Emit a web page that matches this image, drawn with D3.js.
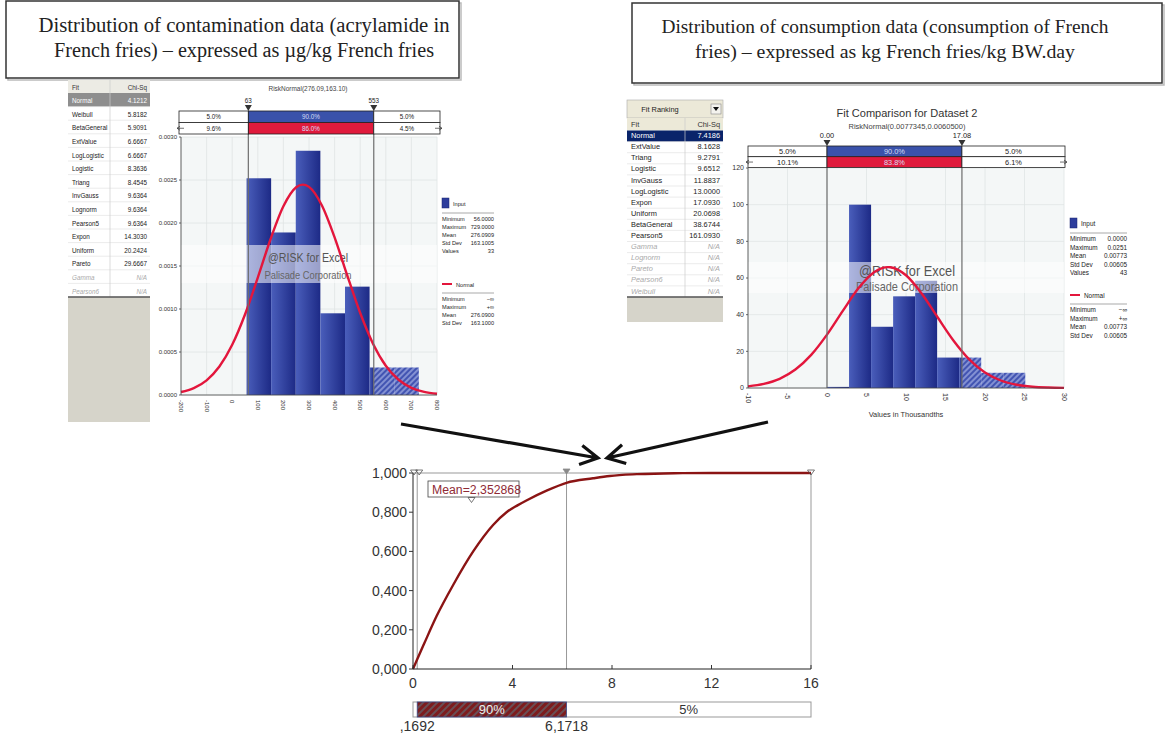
<!DOCTYPE html>
<html>
<head>
<meta charset="utf-8">
<script src="https://cdn.jsdelivr.net/npm/d3@7"></script>
<style>body{margin:0;background:#fff}</style>
</head>
<body>
<script>
//size of the whole picture
const width = 1167;
const height = 736;

// ---------- data: contamination (acrylamide in French fries) ----------
const contFits = ["Normal","Weibull","BetaGeneral","ExtValue","LogLogistic","Logistic","Triang",
  "InvGauss","Lognorm","Pearson5","Expon","Uniform","Pareto","Gamma","Pearson6"];
const contChiSq = ["4.1212","5.8182","5.9091","6.6667","6.6667","8.3636","8.4545",
  "9.6364","9.6364","9.6364","14.3030","20.2424","29.6667","N/A","N/A"];
const contBinEdges = [56, 152.1, 248.3, 344.4, 440.6, 536.7, 632.9, 729];
const contDensity = [0.00252, 0.00189, 0.00284, 0.00095, 0.00126, 0.00032, 0.00032];
// fitted RiskNormal(276.09,163.10)
const contNormX = [-200,-150,-100,-50,0,50,100,150,200,250,276,300,350,400,450,500,550,600,650,700,750,800];
const contNormY = [0.0000346,0.0000806,0.000171,0.000331,0.000584,0.000936,0.001365,0.001814,0.002194,0.002415,0.002446,
  0.00242,0.002207,0.001833,0.001385,0.000953,0.000597,0.00034,0.000177,0.0000835,0.0000359,0.0000141];
const contXTicks = [-200,-100,0,100,200,300,400,500,600,700,800];
const contYTicks = [0,0.0005,0.001,0.0015,0.002,0.0025,0.003];
const contMarks = [63, 553];
const contMarkLabels = ["63", "553"];
const contInputPct = ["5.0%","90.0%","5.0%"];
const contFitPct = ["9.6%","86.0%","4.5%"];
const contInputStats = [["Minimum","56.0000"],["Maximum","729.0000"],["Mean","276.0909"],["Std Dev","163.1005"],["Values","33"]];
const contFitStats = [["Minimum","\u2212\u221e"],["Maximum","+\u221e"],["Mean","276.0900"],["Std Dev","163.1000"]];

// ---------- data: consumption of French fries (values in thousandths) ----------
const consFits = ["Normal","ExtValue","Triang","Logistic","InvGauss","LogLogistic","Expon","Uniform",
  "BetaGeneral","Pearson5","Gamma","Lognorm","Pareto","Pearson6","Weibull"];
const consChiSq = ["7.4186","8.1628","9.2791","9.6512","11.8837","13.0000","17.0930","20.0698",
  "38.6744","161.0930","N/A","N/A","N/A","N/A","N/A"];
const consBinEdges = [0, 2.79, 5.58, 8.37, 11.16, 13.94, 16.73, 19.52, 22.31, 25.1];
const consDensity = [0.6, 100, 33.4, 50, 58.5, 16.6, 16.6, 8.3, 8.3];
// fitted RiskNormal(0.0077345,0.0060500)
const consNormX = [-10,-8,-6,-4,-2,0,2,4,6,7.73,8,10,12,14,16,18,20,22,24,26,28,30];
const consNormY = [0.89,2.24,5.01,10.05,18.07,29.13,42.08,54.5,63.28,65.94,65.88,61.48,51.43,38.57,25.94,15.63,8.45,4.09,1.78,0.69,0.24,0.08];
const consXTicks = [-10,-5,0,5,10,15,20,25,30];
const consYTicks = [0,20,40,60,80,100,120];
const consMarks = [0, 17.08];
const consMarkLabels = ["0.00", "17.08"];
const consInputPct = ["5.0%","90.0%","5.0%"];
const consFitPct = ["10.1%","83.8%","6.1%"];
const consInputStats = [["Minimum","0.0000"],["Maximum","0.0251"],["Mean","0.00773"],["Std Dev","0.00605"],["Values","43"]];
const consFitStats = [["Minimum","\u2212\u221e"],["Maximum","+\u221e"],["Mean","0.00773"],["Std Dev","0.00605"]];

// ---------- data: resulting exposure cumulative curve ----------
const cdfX = [0, 0.17, 0.45, 0.95, 1.62, 2.42, 3.22, 3.76, 4.2, 4.56, 5.37, 6.17, 7.24, 7.91, 9.0, 10.5, 12, 16];
const cdfY = [0, 0.05, 0.13, 0.27, 0.43, 0.60, 0.735, 0.80, 0.835, 0.86, 0.91, 0.95, 0.973, 0.985, 0.994, 0.999, 1, 1];
const cdfXTicks = [0, 4, 8, 12, 16];
const cdfYTicks = [0, 0.2, 0.4, 0.6, 0.8, 1];
const cdfMean = 2.352868;
const cdfMarks = [0.1692, 6.1718];
const cdfMarkLabels = [",1692", "6,1718"];
const cdfPct = ["90%", "5%"];

// sets up canvas
let c = d3.select("body").append("svg")
  .attr("width", width)
  .attr("height", height)
  .style("font-family", "'Liberation Sans', Arial, sans-serif");

let defs = c.append("defs");
let grad = defs.append("linearGradient").attr("id", "barGrad")
  .attr("x1", 0).attr("x2", 1).attr("y1", 0).attr("y2", 0);
grad.append("stop").attr("offset", "0%").attr("stop-color", "#4a5ebb");
grad.append("stop").attr("offset", "100%").attr("stop-color", "#1d2a86");

let hatch = defs.append("pattern").attr("id", "barHatch")
  .attr("patternUnits", "userSpaceOnUse").attr("width", 4).attr("height", 4)
  .attr("patternTransform", "rotate(45)");
hatch.append("rect").attr("width", 4).attr("height", 4).attr("fill", "#4254b2");
hatch.append("line").attr("x1", 1).attr("x2", 1).attr("y1", 0).attr("y2", 4)
  .attr("stroke", "#b9c3ee").attr("stroke-width", 1.1);

let redHatch = defs.append("pattern").attr("id", "redHatch")
  .attr("patternUnits", "userSpaceOnUse").attr("width", 5).attr("height", 5)
  .attr("patternTransform", "rotate(45)");
redHatch.append("rect").attr("width", 5).attr("height", 5).attr("fill", "#7d1c1e");
redHatch.append("line").attr("x1", 1).attr("x2", 1).attr("y1", 0).attr("y2", 5)
  .attr("stroke", "#4a9aa8").attr("stroke-width", 0.8);

// ---------- title boxes ----------
function titleBox(x, y, w, h, cx, lines, widths, base, fs) {
  c.append("rect").attr("x", x + 2).attr("y", y + 2).attr("width", w).attr("height", h)
    .attr("fill", "none").attr("stroke", "#bbb").attr("stroke-width", 1.5);
  c.append("rect").attr("x", x).attr("y", y).attr("width", w).attr("height", h)
    .attr("fill", "#fff").attr("stroke", "#333").attr("stroke-width", 1.5);
  lines.forEach((t, i) => {
    c.append("text").attr("x", cx).attr("y", base + i * 25)
      .attr("text-anchor", "middle")
      .attr("textLength", widths[i]).attr("lengthAdjust", "spacingAndGlyphs")
      .style("font-family", "'Liberation Serif', 'Times New Roman', serif")
      .style("font-size", fs + "px").attr("fill", "#222").text(t);
  });
}
titleBox(6, 1, 453, 77, 244, ["Distribution of contamination data (acrylamide in",
  "French fries) \u2013 expressed as \u00b5g/kg French fries"], [411, 380], 32, 20.5);
titleBox(632, 3, 530, 80, 885, ["Distribution of consumption data (consumption of French",
  "fries) \u2013 expressed as kg French fries/kg BW.day"], [447, 380], 33, 19.5);

// ---------- fit ranking tables ----------
function fitTable(o) {
  let g = c.append("g").style("font-size", o.fs + "px");
  g.append("rect").attr("x", o.x).attr("y", o.y).attr("width", o.w).attr("height", o.h).attr("fill", "#d6d4ca");
  let top = o.y;
  if (o.ranking) {
    g.append("rect").attr("x", o.x).attr("y", top).attr("width", o.w).attr("height", 18).attr("fill", "#ece9d8")
      .attr("stroke", "#aaa").attr("stroke-width", 0.6);
    g.append("text").attr("x", o.x + 33).attr("y", top + 12).attr("text-anchor", "middle").attr("fill", "#222").text("Fit Ranking");
    g.append("rect").attr("x", o.x + o.w - 12).attr("y", top + 4).attr("width", 10).attr("height", 10)
      .attr("fill", "#f4f3ee").attr("stroke", "#888").attr("stroke-width", 0.6);
    g.append("path").attr("d", `M${o.x + o.w - 10},${top + 7}h6l-3,4z`).attr("fill", "#111");
    top += 18;
  }
  let tableH = o.headH + o.rowH * o.fits.length;
  g.append("rect").attr("x", o.x).attr("y", top).attr("width", o.w).attr("height", tableH).attr("fill", "#fff");
  g.append("rect").attr("x", o.x).attr("y", top).attr("width", o.w).attr("height", o.headH).attr("fill", o.headFill);
  g.append("text").attr("x", o.x + 4).attr("y", top + o.headH - 3.5).attr("fill", "#333").text("Fit");
  g.append("text").attr("x", o.x + o.w - 3).attr("y", top + o.headH - 3.5).attr("text-anchor", "end").attr("fill", "#333").text("Chi-Sq");
  o.fits.forEach((f, i) => {
    let ry = top + o.headH + i * o.rowH;
    let na = o.chi[i] === "N/A";
    if (i === 0) g.append("rect").attr("x", o.x).attr("y", ry).attr("width", o.w).attr("height", o.rowH).attr("fill", o.selFill);
    g.append("line").attr("x1", o.x).attr("x2", o.x + o.w).attr("y1", ry + o.rowH).attr("y2", ry + o.rowH)
      .attr("stroke", "#ddd").attr("stroke-width", 0.6);
    let col = i === 0 ? "#fff" : (na ? "#aaa" : "#222");
    g.append("text").attr("x", o.x + 4).attr("y", ry + o.rowH - 3.5).attr("fill", col)
      .style("font-style", na ? "italic" : "normal").text(f);
    g.append("text").attr("x", o.x + o.w - 3).attr("y", ry + o.rowH - 3.5).attr("text-anchor", "end").attr("fill", col)
      .style("font-style", na ? "italic" : "normal").text(o.chi[i]);
  });
  g.append("line").attr("x1", o.x + o.div).attr("x2", o.x + o.div).attr("y1", top).attr("y2", top + tableH)
    .attr("stroke", "#ccc").attr("stroke-width", 0.7);
  g.append("line").attr("x1", o.x).attr("x2", o.x + o.w).attr("y1", top + tableH).attr("y2", top + tableH)
    .attr("stroke", "#555").attr("stroke-width", 1.3);
}
fitTable({x: 68, y: 80, w: 82, h: 342, headH: 13, rowH: 13.6, fits: contFits, chi: contChiSq,
  div: 42, fs: 6.3, headFill: "#ecebe4", selFill: "#8e8e8e", ranking: false});
fitTable({x: 627, y: 100, w: 96, h: 222, headH: 12.5, rowH: 11.1, fits: consFits, chi: consChiSq,
  div: 58, fs: 7.4, headFill: "#ece9d8", selFill: "#0a246a", ranking: true});

// ---------- histogram + fitted normal panels ----------
function fitPanel(o) {
  let g = c.append("g");
  let x = d3.scaleLinear().domain(d3.extent(o.xTicks)).range(o.xRange);
  let y = d3.scaleLinear().domain(d3.extent(o.yTicks)).range(o.yRange);
  let L = o.xRange[0], R = o.xRange[1], T = o.yRange[1], B = o.yRange[0];

  g.append("rect").attr("x", L).attr("y", T).attr("width", R - L).attr("height", B - T).attr("fill", "#f4f7f7");
  g.selectAll(".vg").data(o.xTicks).join("line")
    .attr("x1", d => x(d)).attr("x2", d => x(d)).attr("y1", T).attr("y2", B)
    .attr("stroke", "#dfe4e4").attr("stroke-width", 0.8);
  g.selectAll(".hg").data(o.yTicks).join("line")
    .attr("x1", L).attr("x2", R).attr("y1", d => y(d)).attr("y2", d => y(d))
    .attr("stroke", "#dfe4e4").attr("stroke-width", 0.8);

  // bars, hatched beyond the right delimiter
  let cut = o.marks[1];
  o.dens.forEach((d, i) => {
    let x0 = o.edges[i], x1 = o.edges[i + 1];
    if (x0 < cut) g.append("rect").attr("x", x(x0)).attr("width", x(Math.min(x1, cut)) - x(x0))
      .attr("y", y(d)).attr("height", y(0) - y(d)).attr("fill", "url(#barGrad)");
    if (x1 > cut) g.append("rect").attr("x", x(Math.max(x0, cut))).attr("width", x(x1) - x(Math.max(x0, cut)))
      .attr("y", y(d)).attr("height", y(0) - y(d)).attr("fill", "url(#barHatch)");
  });

  // watermark band
  g.append("rect").attr("x", L).attr("y", o.band[0]).attr("width", R - L).attr("height", o.band[1] - o.band[0])
    .attr("fill", "#fff").attr("opacity", 0.55);
  g.append("text").attr("x", o.wmX).attr("y", o.wmY[0]).attr("text-anchor", "middle")
    .attr("textLength", o.wmW[0]).attr("lengthAdjust", "spacingAndGlyphs")
    .style("font-size", o.wmS[0] + "px").attr("fill", "#555").text("@RISK for Excel");
  g.append("text").attr("x", o.wmX).attr("y", o.wmY[1]).attr("text-anchor", "middle")
    .attr("textLength", o.wmW[1]).attr("lengthAdjust", "spacingAndGlyphs")
    .style("font-size", o.wmS[1] + "px").attr("fill", "#666").text("Palisade Corporation");

  // fitted normal curve
  let line = d3.line().x(d => x(d[0])).y(d => y(d[1])).curve(d3.curveMonotoneX);
  g.append("path").datum(o.normX.map((v, i) => [v, o.normY[i]]))
    .attr("d", line).attr("fill", "none").attr("stroke", "#e3163c").attr("stroke-width", 2.4);

  // delimiter lines
  o.marks.forEach(m => {
    g.append("line").attr("x1", x(m)).attr("x2", x(m)).attr("y1", o.rowY).attr("y2", B)
      .attr("stroke", "#6d6d6d").attr("stroke-width", 1.2);
  });

  // axes
  g.append("line").attr("x1", L).attr("x2", L).attr("y1", T).attr("y2", B).attr("stroke", "#444").attr("stroke-width", 0.8);
  g.append("line").attr("x1", L).attr("x2", R).attr("y1", B).attr("y2", B).attr("stroke", "#444").attr("stroke-width", 0.8);
  g.selectAll(".yt").data(o.yTicks).join("text")
    .attr("x", L - 4).attr("y", d => y(d) + o.tfs / 3).attr("text-anchor", "end")
    .style("font-size", o.tfs + "px").attr("fill", "#333").text(o.yFmt);
  g.selectAll(".ytk").data(o.yTicks).join("line")
    .attr("x1", L - 2).attr("x2", L).attr("y1", d => y(d)).attr("y2", d => y(d)).attr("stroke", "#444").attr("stroke-width", 0.8);
  g.selectAll(".xt").data(o.xTicks).join("text")
    .attr("transform", d => `translate(${x(d) - o.tfs / 3},${B + 5}) rotate(90)`)
    .style("font-size", o.tfs + "px").attr("fill", "#333").text(d => d);
  if (o.xLabel) g.append("text").attr("x", (L + R) / 2).attr("y", o.xLabelY).attr("text-anchor", "middle")
    .style("font-size", (o.tfs + 0.4) + "px").attr("fill", "#333").text(o.xLabel);

  // percentage rows above the plot
  let rx0 = o.rowX[0], rx1 = o.rowX[1], rh = o.rowH, ry = o.rowY;
  [o.inputPct, o.fitPct].forEach((p, r) => {
    let yy = ry + r * rh;
    let xs = [rx0, x(o.marks[0]), x(o.marks[1]), rx1];
    for (let k = 0; k < 3; k++) {
      let fill = k === 1 ? (r === 0 ? "#3a52aa" : "#e01a3c") : "#fff";
      g.append("rect").attr("x", xs[k]).attr("y", yy).attr("width", xs[k + 1] - xs[k]).attr("height", rh)
        .attr("fill", fill).attr("stroke", "#222").attr("stroke-width", 0.8);
      g.append("text").attr("x", (xs[k] + xs[k + 1]) / 2).attr("y", yy + rh / 2 + o.pfs / 2.8)
        .attr("text-anchor", "middle").style("font-size", o.pfs + "px")
        .attr("fill", k === 1 ? "#d6dcf4" : "#222").text(p[k]);
    }
  });
  let ay = ry + rh * 1.5;
  g.append("path").attr("d", `M${rx0 - 2},${ay}h7M${rx0 - 2},${ay}l3,-2M${rx0 - 2},${ay}l3,2`).attr("stroke", "#333").attr("stroke-width", 0.7).attr("fill", "none");
  g.append("path").attr("d", `M${rx1 + 2},${ay}h-7M${rx1 + 2},${ay}l-3,-2M${rx1 + 2},${ay}l-3,2`).attr("stroke", "#333").attr("stroke-width", 0.7).attr("fill", "none");

  // delimiter markers and labels
  o.marks.forEach((m, i) => {
    g.append("path").attr("d", `M${x(m) - 3.5},${ry - 6}h7l-3.5,6z`).attr("fill", "#333");
    g.append("text").attr("x", x(m)).attr("y", ry - 8).attr("text-anchor", "middle")
      .style("font-size", o.pfs + "px").attr("fill", "#222").text(o.markLabels[i]);
  });

  // titles
  o.titles.forEach(t => {
    g.append("text").attr("x", o.titleX).attr("y", t.y).attr("text-anchor", "middle")
      .attr("textLength", t.w).attr("lengthAdjust", "spacingAndGlyphs")
      .style("font-size", t.s + "px").attr("fill", t.col).text(t.text);
  });

  // legend
  let lg = g.append("g").style("font-size", o.lfs + "px").attr("fill", "#222");
  let lx = o.legX, lr = o.legR, ly = o.legY, st = o.legStep;
  lg.append("rect").attr("x", lx).attr("y", ly).attr("width", 7).attr("height", 10).attr("fill", "#2d3d9c").attr("stroke", "#1a2470").attr("stroke-width", 0.5);
  lg.append("text").attr("x", lx + 11).attr("y", ly + 8).text("Input");
  lg.append("line").attr("x1", lx).attr("x2", lr).attr("y1", ly + 15).attr("y2", ly + 15).attr("stroke", "#aaa").attr("stroke-width", 1.2);
  o.inputStats.forEach((s, i) => {
    lg.append("text").attr("x", lx).attr("y", ly + 23 + i * st).text(s[0]);
    lg.append("text").attr("x", lr).attr("y", ly + 23 + i * st).attr("text-anchor", "end").text(s[1]);
  });
  let ny = o.normLegY;
  lg.append("line").attr("x1", lx).attr("x2", lx + 10).attr("y1", ny).attr("y2", ny).attr("stroke", "#e3163c").attr("stroke-width", 2);
  lg.append("text").attr("x", lx + 14).attr("y", ny + 2.5).text("Normal");
  lg.append("line").attr("x1", lx).attr("x2", lr).attr("y1", ny + 9).attr("y2", ny + 9).attr("stroke", "#aaa").attr("stroke-width", 1.2);
  o.fitStats.forEach((s, i) => {
    lg.append("text").attr("x", lx).attr("y", ny + 17 + i * st).text(s[0]);
    lg.append("text").attr("x", lr).attr("y", ny + 17 + i * st).attr("text-anchor", "end").text(s[1]);
  });
}

fitPanel({
  xTicks: contXTicks, yTicks: contYTicks, xRange: [181, 437], yRange: [395, 137],
  edges: contBinEdges, dens: contDensity, normX: contNormX, normY: contNormY,
  marks: contMarks, markLabels: contMarkLabels, inputPct: contInputPct, fitPct: contFitPct,
  yFmt: d3.format(".4f"), tfs: 6, pfs: 6.3,
  rowX: [179, 440], rowY: 111, rowH: 11.5,
  band: [245, 283], wmX: 308, wmY: [262, 279], wmW: [80, 87], wmS: [13, 11],
  titleX: 308, titles: [{text: "RiskNormal(276.09,163.10)", y: 91, w: 79, s: 6.5, col: "#444"}],
  legX: 442, legR: 494, legY: 198, legStep: 8, normLegY: 284, lfs: 5.6,
  inputStats: contInputStats, fitStats: contFitStats
});

fitPanel({
  xTicks: consXTicks, yTicks: consYTicks, xRange: [748, 1064], yRange: [388, 168],
  edges: consBinEdges, dens: consDensity, normX: consNormX, normY: consNormY,
  marks: consMarks, markLabels: consMarkLabels, inputPct: consInputPct, fitPct: consFitPct,
  yFmt: d3.format("d"), tfs: 7, pfs: 7.4,
  rowX: [748, 1065], rowY: 146, rowH: 10.7,
  band: [262, 293], wmX: 907, wmY: [276, 291], wmW: [96, 102], wmS: [15, 13],
  xLabel: "Values in Thousandths", xLabelY: 417,
  titleX: 907, titles: [{text: "Fit Comparison for Dataset 2", y: 117, w: 141, s: 11.5, col: "#333"},
    {text: "RiskNormal(0.0077345,0.0060500)", y: 128.5, w: 117, s: 7.5, col: "#444"}],
  legX: 1070, legR: 1127, legY: 218, legStep: 8.5, normLegY: 295, lfs: 6.4,
  inputStats: consInputStats, fitStats: consFitStats
});

// ---------- arrows into the exposure chart ----------
function arrow(x0, y0, x1, y1) {
  let a = Math.atan2(y1 - y0, x1 - x0), L = 20, s = 0.5;
  c.append("path")
    .attr("d", `M${x0},${y0}L${x1},${y1}` +
      `M${x1 - L * Math.cos(a - s)},${y1 - L * Math.sin(a - s)}L${x1},${y1}` +
      `L${x1 - L * Math.cos(a + s)},${y1 - L * Math.sin(a + s)}`)
    .attr("fill", "none").attr("stroke", "#111").attr("stroke-width", 3.2);
}
arrow(401, 424, 598, 458);
arrow(768, 422, 607, 458);

// ---------- exposure cumulative curve ----------
let cx = d3.scaleLinear().domain([0, 16]).range([413, 811]);
let cy = d3.scaleLinear().domain([0, 1]).range([669, 473]);
let cg = c.append("g").style("font-size", "14px");
let comma = d => d3.format(".3f")(d).replace(".", ",");

cg.append("line").attr("x1", 413).attr("x2", 811).attr("y1", cy(1)).attr("y2", cy(1)).attr("stroke", "#999");
cg.append("line").attr("x1", 811).attr("x2", 811).attr("y1", cy(1)).attr("y2", cy(0)).attr("stroke", "#999");
cdfMarks.forEach(m => {
  cg.append("line").attr("x1", cx(m)).attr("x2", cx(m)).attr("y1", cy(1)).attr("y2", cy(0)).attr("stroke", "#999");
});
cg.append("path").datum(cdfX.map((v, i) => [v, cdfY[i]]))
  .attr("d", d3.line().x(d => cx(d[0])).y(d => cy(d[1])).curve(d3.curveMonotoneX))
  .attr("fill", "none").attr("stroke", "#8b1414").attr("stroke-width", 2.4);
cg.append("line").attr("x1", 413).attr("x2", 413).attr("y1", cy(1)).attr("y2", cy(0)).attr("stroke", "#222");
cg.append("line").attr("x1", 413).attr("x2", 811).attr("y1", cy(0)).attr("y2", cy(0)).attr("stroke", "#222");
cg.selectAll(".cyt").data(cdfYTicks).join("text")
  .attr("x", 407).attr("y", d => cy(d) + 5).attr("text-anchor", "end").attr("fill", "#333").text(comma);
cg.selectAll(".cytk").data(cdfYTicks).join("line")
  .attr("x1", 409).attr("x2", 413).attr("y1", d => cy(d)).attr("y2", d => cy(d)).attr("stroke", "#333");
cg.selectAll(".cxt").data(cdfXTicks).join("text")
  .attr("x", d => cx(d)).attr("y", 688).attr("text-anchor", "middle").attr("fill", "#333").text(d => d);
cg.selectAll(".cxtk").data(cdfXTicks).join("line")
  .attr("x1", d => cx(d)).attr("x2", d => cx(d)).attr("y1", cy(0) - 4).attr("y2", cy(0)).attr("stroke", "#333");

// triangle markers on the top edge
let tri = (px, py, fill) => cg.append("path").attr("d", `M${px - 3.5},${py}h7l-3.5,5z`)
  .attr("fill", fill).attr("stroke", fill === "none" ? "#555" : fill).attr("stroke-width", 0.8);
tri(cx(0) + 1, 470, "none");
tri(cx(cdfMarks[0]) + 2, 470, "none");
tri(cx(cdfMarks[1]), 469, "#8a8a8a");
tri(cx(16), 470, "none");

// mean label
cg.append("rect").attr("x", 428).attr("y", 481).attr("width", 91).attr("height", 16)
  .attr("fill", "#fff").attr("stroke", "#444").attr("stroke-width", 0.8);
cg.append("text").attr("x", 432).attr("y", 494).attr("fill", "#8f2a35").style("font-size", "12.5px")
  .attr("textLength", 89).attr("lengthAdjust", "spacingAndGlyphs")
  .text("Mean=" + String(cdfMean).replace(".", ","));
tri(cx(cdfMean), 497.5, "none");

// percentile bar under the chart
let by = 702, bh = 15;
cg.append("rect").attr("x", 413).attr("y", by).attr("width", 398).attr("height", bh).attr("fill", "#fff").attr("stroke", "#999");
cg.append("rect").attr("x", cx(cdfMarks[0])).attr("y", by).attr("width", cx(cdfMarks[1]) - cx(cdfMarks[0])).attr("height", bh)
  .attr("fill", "url(#redHatch)").attr("stroke", "#3a4a8a").attr("stroke-width", 0.8);
cg.append("text").attr("x", (cx(cdfMarks[0]) + cx(cdfMarks[1])) / 2).attr("y", by + 12).attr("text-anchor", "middle")
  .style("font-size", "13px").attr("fill", "#eee").text(cdfPct[0]);
cg.append("text").attr("x", (cx(cdfMarks[1]) + 811) / 2).attr("y", by + 12).attr("text-anchor", "middle")
  .style("font-size", "13px").attr("fill", "#333").text(cdfPct[1]);
cdfMarks.forEach((m, i) => {
  cg.append("text").attr("x", cx(m)).attr("y", 731).attr("text-anchor", "middle")
    .attr("fill", "#333").text(cdfMarkLabels[i]);
});
</script>
</body>
</html>
